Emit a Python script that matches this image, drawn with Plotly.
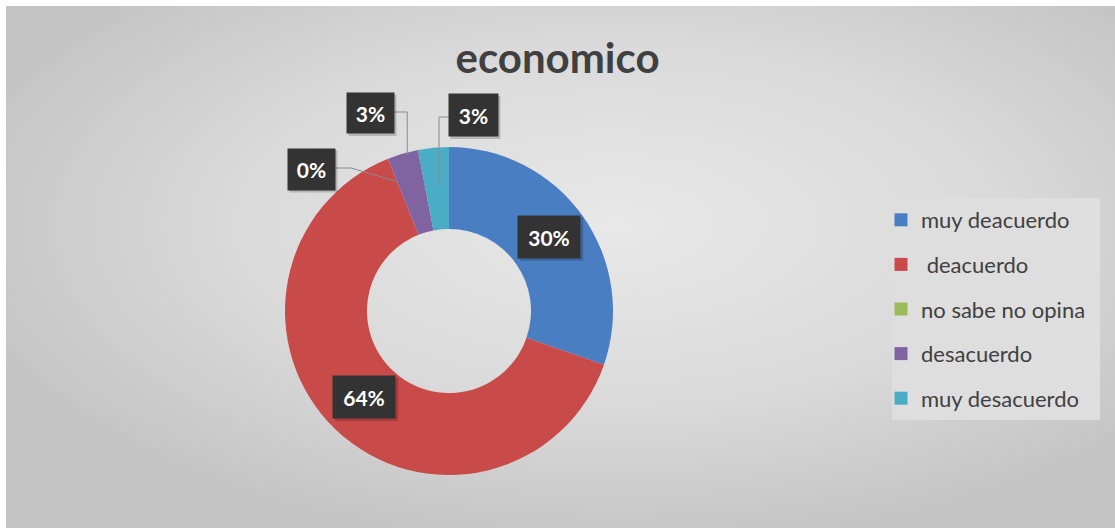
import base64, math
import plotly.graph_objects as go

# ---- data ----
categories = ["muy deacuerdo", "\u00a0deacuerdo", "no sabe no opina", "desacuerdo", "muy desacuerdo"]
values = [10, 21, 0, 1, 1]
colors = ["#4A7EC2", "#C84A49", "#9BBB59", "#8064A2", "#4BACC6"]
title_text = "economico"

W, H = 1115, 528
# pie geometry (pixels)
CX, CY, R = 449, 311, 164
HOLE = 0.5

def px(x):
    return x / W

def py(y):
    return 1 - y / H

total = sum(values)
cum = [0]
for v in values:
    cum.append(cum[-1] + v)

def point(frac, rr):
    th = 2 * math.pi * frac
    return CX + rr * math.sin(th), CY - rr * math.cos(th)

# background radial gradient as svg image
svg = f'''<svg xmlns="http://www.w3.org/2000/svg" width="1109" height="522">
<defs><radialGradient id="g" cx="0.55" cy="0.42" r="0.62">
<stop offset="0" stop-color="#e8e8e8"/><stop offset="0.55" stop-color="#dadada"/><stop offset="1" stop-color="#c4c4c4"/>
</radialGradient></defs><rect width="1109" height="522" fill="url(#g)"/></svg>'''
src = "data:image/svg+xml;base64," + base64.b64encode(svg.encode()).decode()

fig = go.Figure()
fig.add_trace(go.Pie(
    labels=categories, values=values, hole=HOLE, sort=False, direction="clockwise",
    rotation=0, marker=dict(colors=colors, line=dict(width=0)), textinfo="none",
    showlegend=False,
    domain=dict(x=[px(CX - R), px(CX + R)], y=[py(CY + R), py(CY - R)]),
))

# legend via dummy traces (for spacing)
for i, (c, col) in enumerate(zip(categories, colors)):
    fig.add_trace(go.Scatter(
        x=[None], y=[None], mode="markers", name=c, legendgroup=f"g{i}",
        marker=dict(symbol="square", size=13, color=col), showlegend=True,
    ))

shapes = []
# legend box
shapes.append(dict(type="rect", xref="paper", yref="paper", x0=px(892), x1=px(1100),
                   y0=py(420), y1=py(198), fillcolor="#dedede", line=dict(width=0), layer="below"))

annotations = []
def label_box(text, cx, cy, w, h):
    # shadow
    shapes.append(dict(type="rect", xref="paper", yref="paper", x0=px(cx - w / 2 + 2), x1=px(cx + w / 2 + 3),
                       y0=py(cy + h / 2 + 3), y1=py(cy - h / 2 + 2), fillcolor="rgba(0,0,0,0.18)",
                       line=dict(width=0)))
    annotations.append(dict(text=f"<b>{text}</b>", xref="paper", yref="paper", x=px(cx), y=py(cy),
                            xanchor="center", yanchor="middle", showarrow=False, width=w, height=h,
                            borderpad=0, bgcolor="#333333",
                            font=dict(family="Lato", size=21, color="white")))

pct = [round(100 * v / total) for v in values]

# inside labels (muy deacuerdo, deacuerdo)
for i in (0, 1):
    x, y = point((cum[i] + values[i] / 2) / total, 0.75 * R)
    label_box(f"{pct[i]}%", x, y - 3, 62, 42)

line_style = dict(color="#8a8a8a", width=1)
def path(pts):
    d = "M " + " L ".join(f"{px(a)},{py(b)}" for a, b in pts)
    shapes.append(dict(type="path", xref="paper", yref="paper", path=d, line=line_style))

# no sabe no opina (0%)
bx, by = 311, 169
ax, ay = point(cum[2] / total, 0.85 * R)
path([(bx + 23, by - 1), (351, by - 1), (ax, ay)])
label_box(f"{pct[2]}%", bx, by, 47, 41)

# desacuerdo
bx, by = 370, 113
ax, ay = point((cum[3] + values[3] / 2) / total, 0.99 * R)
path([(bx + 24, by - 1), (ax + 4, by - 1), (ax + 4, ay)])
label_box(f"{pct[3]}%", bx, by, 47, 40)

# muy desacuerdo
bx, by = 473, 115
ax, ay = point((cum[4] + values[4] / 2) / total, 0.77 * R)
path([(bx - 24, by + 2), (ax + 2, by + 2), (ax + 2, ay)])
label_box(f"{pct[4]}%", bx, by, 49, 42)

fig.update_layout(
    width=W, height=H, margin=dict(l=0, r=0, t=0, b=0),
    paper_bgcolor="white", plot_bgcolor="rgba(0,0,0,0)",
    images=[dict(source=src, xref="paper", yref="paper", x=px(6), y=py(6),
                 sizex=1109 / W, sizey=522 / H, sizing="stretch", layer="below",
                 xanchor="left", yanchor="top")],
    title=dict(text=f"<b>{title_text}</b>", x=0.5, xanchor="center", y=py(58), yanchor="middle",
               yref="container", font=dict(family="Lato", size=42, color="#404040")),
    xaxis=dict(visible=False), yaxis=dict(visible=False),
    legend=dict(x=px(881), y=py(199), xanchor="left", yanchor="top", bgcolor="rgba(0,0,0,0)",
                tracegroupgap=13, itemclick=False,
                font=dict(family="Lato", size=22, color="#404040")),
    shapes=shapes, annotations=annotations,
)
fig.write_html("out.html")
